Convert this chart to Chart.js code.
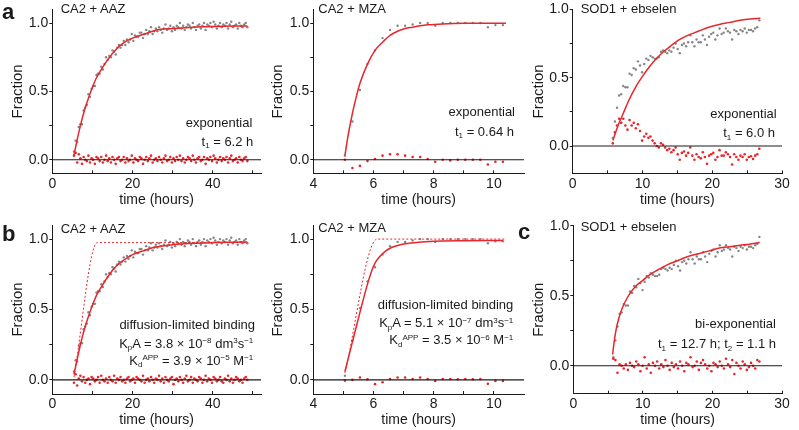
<!DOCTYPE html>
<html><head><meta charset="utf-8">
<script src="https://cdn.jsdelivr.net/npm/chart.js@4"></script>
<style>
html,body{margin:0;padding:0;background:#fff;}
#fig{position:relative;width:799px;height:430px;overflow:hidden;font-family:"Liberation Sans",Arial,Helvetica,sans-serif;color:#1a1a1a;}
canvas{position:absolute;}
.t{position:absolute;font-size:13px;line-height:15px;white-space:nowrap;}
.L{position:absolute;font-size:22px;line-height:22px;font-weight:bold;}
sub,sup{font-size:8px;line-height:0;position:relative;vertical-align:baseline;}
sup{top:-0.6em;} sub{top:0.3em;}
</style></head><body>
<div id="fig">
<canvas id="pa1" width="270" height="210" style="left:0;top:0"></canvas>
<canvas id="pa2" width="265" height="210" style="left:265px;top:0"></canvas>
<canvas id="pa3" width="269" height="210" style="left:530px;top:0"></canvas>
<canvas id="pb1" width="270" height="215" style="left:0;top:215px"></canvas>
<canvas id="pb2" width="265" height="215" style="left:265px;top:215px"></canvas>
<canvas id="pc" width="269" height="215" style="left:530px;top:215px"></canvas>

<div class="L" style="left:2px;top:1px">a</div>
<div class="L" style="left:2px;top:223px">b</div>
<div class="L" style="left:518px;top:221px">c</div>

<div class="t" style="left:60.7px;top:0.7px">CA2 + AAZ</div>
<div class="t" style="right:546.7px;top:115.3px">exponential</div>
<div class="t" style="right:545.7px;top:134px">t<sub>1</sub> = 6.2 h</div>

<div class="t" style="left:318.3px;top:1.3px">CA2 + MZA</div>
<div class="t" style="right:284px;top:103.7px">exponential</div>
<div class="t" style="right:285px;top:123.7px">t<sub>1</sub> = 0.64 h</div>

<div class="t" style="left:580.7px;top:0.7px">SOD1 + ebselen</div>
<div class="t" style="right:22.3px;top:106px">exponential</div>
<div class="t" style="right:24px;top:125.3px">t<sub>1</sub> = 6.0 h</div>

<div class="t" style="left:60.7px;top:220.7px">CA2 + AAZ</div>
<div class="t" style="right:544px;top:317px">diffusion-limited binding</div>
<div class="t" style="right:545.7px;top:335.7px">K<sub>p</sub>A = 3.8 × 10<sup>−8</sup> dm<sup>3</sup>s<sup>−1</sup></div>
<div class="t" style="right:545.7px;top:353px">K<sub>d</sub><sup>APP</sup> = 3.9 × 10<sup>−5</sup> M<sup>−1</sup></div>

<div class="t" style="left:318.3px;top:219.7px">CA2 + MZA</div>
<div class="t" style="right:285.7px;top:297px">diffusion-limited binding</div>
<div class="t" style="right:285.7px;top:315.3px">K<sub>p</sub>A = 5.1 × 10<sup>−7</sup> dm<sup>3</sup>s<sup>−1</sup></div>
<div class="t" style="right:285.7px;top:332.3px">K<sub>d</sub><sup>APP</sup> = 3.5 × 10<sup>−6</sup> M<sup>−1</sup></div>

<div class="t" style="left:580.7px;top:219px">SOD1 + ebselen</div>
<div class="t" style="right:23px;top:316.3px">bi-exponential</div>
<div class="t" style="right:23px;top:336.3px">t<sub>1</sub> = 12.7 h; t<sub>2</sub> = 1.1 h</div>
</div>

<script>
// ---------- CA2 + AAZ ----------
const timesAAZ = [5.4,5.8,6.2,6.6,7.0,7.4,7.8,8.2,8.6,9.0,
9.4,9.8,10.2,10.6,11.0,11.4,11.8,12.2,12.6,13.0,
13.4,13.8,14.2,14.6,15.0,15.4,15.8,16.2,16.6,17.0,
17.4,17.8,18.2,18.6,19.0,19.4,19.8,20.2,20.6,21.0,
21.4,21.8,22.2,22.6,23.0,23.4,23.8,24.2,24.6,25.0,
25.4,25.8,26.2,26.6,27.0,27.4,27.8,28.2,28.6,29.0,
29.4,29.8,30.2,30.6,31.0,31.4,31.8,32.2,32.6,33.0,
33.4,33.8,34.2,34.6,35.0,35.4,35.8,36.2,36.6,37.0,
37.4,37.8,38.2,38.6,39.0,39.4,39.8,40.2,40.6,41.0,
41.4,41.8,42.2,42.6,43.0,43.4,43.8,44.2,44.6,45.0,
45.4,45.8,46.2,46.6,47.0,47.4,47.8,48.2,48.6];
const grayAAZ = [0.06,0.14,0.13,0.24,0.26,0.26,0.36,0.38,0.40,0.48,
0.46,0.52,0.54,0.54,0.62,0.63,0.63,0.68,0.66,0.70,
0.75,0.73,0.76,0.75,0.80,0.79,0.77,0.82,0.84,0.82,
0.84,0.87,0.84,0.88,0.86,0.88,0.92,0.87,0.91,0.90,
0.90,0.93,0.93,0.89,0.92,0.95,0.92,0.94,0.97,0.92,
0.94,0.96,0.94,0.97,0.95,0.93,0.96,0.99,0.95,0.96,
0.98,0.94,0.97,0.95,0.98,0.97,1.00,0.96,0.98,0.95,
0.97,0.99,0.98,0.96,1.00,0.97,0.95,0.98,0.99,0.96,
0.98,1.00,0.95,0.99,0.98,1.00,0.97,1.01,0.99,0.96,
0.98,1.00,0.97,0.99,0.98,1.00,0.96,0.99,1.01,0.97,
0.98,0.99,0.96,1.00,0.98,0.97,0.99,1.00,0.97];
const residAAZexp = [0.03,0.05,-0.02,0.04,0.01,-0.03,0.02,0.00,-0.01,0.03,
-0.02,0.01,0.00,-0.03,0.02,0.01,-0.01,0.02,-0.02,0.00,
0.03,-0.01,0.01,-0.02,0.02,0.00,-0.03,0.01,0.02,-0.01,
0.00,0.02,-0.02,0.01,-0.01,0.00,0.03,-0.02,0.01,0.00,
-0.01,0.02,0.01,-0.03,0.00,0.02,-0.01,0.01,0.03,-0.02,
0.00,0.01,-0.01,0.02,0.00,-0.02,0.01,0.03,-0.01,0.00,
0.02,-0.02,0.01,-0.01,0.02,0.00,0.03,-0.01,0.01,-0.02,
0.00,0.02,0.01,-0.01,0.03,0.00,-0.02,0.01,0.02,-0.01,
0.00,0.02,-0.03,0.01,0.00,0.02,-0.01,0.03,0.01,-0.02,
0.00,0.02,-0.01,0.01,0.00,0.02,-0.02,0.01,0.03,-0.01,
0.00,0.01,-0.02,0.02,0.00,-0.01,0.01,0.02,-0.01];
const residAAZdiff = [-0.02,0.04,-0.04,0.01,0.03,-0.01,0.02,-0.02,0.00,0.01,
-0.03,0.02,0.01,-0.01,0.00,0.02,-0.02,0.03,0.00,-0.01,
0.01,-0.02,0.02,0.00,-0.01,0.03,-0.02,0.01,0.00,0.02,
-0.01,0.00,-0.02,0.01,0.02,-0.01,0.00,0.01,-0.02,0.02,
0.01,0.00,-0.01,0.03,-0.02,0.00,0.01,-0.01,0.02,0.00,
-0.02,0.01,0.00,0.03,-0.01,0.01,-0.02,0.02,0.00,-0.01,
0.01,0.02,-0.03,0.00,0.01,-0.01,0.02,0.00,-0.02,0.01,
0.03,-0.01,0.00,0.02,-0.02,0.01,0.00,-0.01,0.02,0.01,
-0.02,0.00,0.03,-0.01,0.01,0.00,-0.02,0.02,0.01,-0.01,
0.00,0.02,-0.01,-0.02,0.01,0.00,0.03,-0.01,0.01,-0.02,
0.00,0.02,0.01,-0.01,0.00,-0.02,0.01,0.02,0.00];
const fitAAZexpT = [5.4,6,7,8,9,10,11,12,14,16,18,20,23,26,30,35,40,45,48.6];
const fitAAZexpY = [0.03,0.12,0.25,0.36,0.45,0.53,0.60,0.65,0.74,0.81,0.86,0.89,0.92,0.95,0.96,0.97,0.975,0.978,0.979];
const fitAAZdiffT = [5.4,6,7,8,9,10,11,12,14,16,18,20,23,26,30,35,40,45,48.6];
const fitAAZdiffY = [0.04,0.12,0.25,0.36,0.45,0.53,0.60,0.65,0.74,0.81,0.855,0.89,0.92,0.945,0.96,0.97,0.975,0.978,0.98];
const limAAZT = [5.4,11.2,48.6];
const limAAZY = [0.02,0.975,0.975];

// ---------- CA2 + MZA ----------
const timesMZA = [5.05,5.30,5.55,5.80,6.05,6.30,6.55,6.80,7.05,7.30,7.55,7.80,8.05,8.30,8.55,8.80,9.05,9.30,9.55,9.80,10.05,10.30];
const grayMZA = [0.03,0.28,0.51,0.70,0.80,0.89,0.95,0.98,0.98,0.99,1.00,1.00,0.98,1.00,1.00,1.00,1.00,1.00,1.00,0.97,0.985,0.985];
const residMZAexp = [0.00,-0.06,-0.045,-0.01,0.005,0.03,0.04,0.04,0.03,0.02,0.02,0.005,-0.015,0.00,-0.005,0.00,0.00,0.00,0.00,-0.035,-0.015,-0.015];
const residMZAdiff = [-0.005,0.00,0.017,0.005,-0.03,-0.017,0.007,0.017,0.017,0.007,0.017,0.007,-0.007,0.007,0.007,0.005,0.007,0.005,0.007,-0.028,-0.007,-0.007];
const fitMZAexpT = [5.05,5.15,5.3,5.45,5.55,5.8,6.05,6.3,6.55,6.8,7.05,7.3,7.55,7.8,8.3,9,10.4];
const fitMZAexpY = [0.03,0.17,0.34,0.48,0.56,0.70,0.80,0.86,0.91,0.94,0.96,0.97,0.98,0.987,0.994,0.998,0.999];
const fitMZAdiffT = [5.05,5.3,5.55,5.8,5.95,6.05,6.2,6.4,6.6,6.8,7.05,7.5,8,9,10.3];
const fitMZAdiffY = [0.06,0.27,0.48,0.68,0.78,0.83,0.875,0.915,0.94,0.955,0.967,0.978,0.984,0.988,0.99];
const limMZAT = [5.05,6.12,10.4];
const limMZAY = [0.05,1.0,1.0];

// ---------- SOD1 + ebselen ----------
const timesSOD = [5.75,6.05,6.35,6.65,6.95,7.25,7.55,7.85,8.15,8.45,
8.75,9.05,9.35,9.65,9.95,10.25,10.55,10.85,11.15,11.45,
11.75,12.05,12.35,12.65,12.95,13.25,13.55,13.85,14.15,14.45,
14.75,15.05,15.35,15.65,15.95,16.25,16.55,16.85,17.15,17.45,
17.75,18.05,18.35,18.65,18.95,19.25,19.55,19.85,20.15,20.45,
20.75,21.05,21.35,21.65,21.95,22.25,22.55,22.85,23.15,23.45,
23.75,24.05,24.35,24.65,24.95,25.25,25.55,25.85,26.15,26.45,
26.75];
const graySOD = [0.06,0.18,0.28,0.37,0.38,0.44,0.43,0.43,0.53,0.52,
0.57,0.56,0.62,0.59,0.54,0.60,0.64,0.63,0.66,0.65,
0.64,0.64,0.65,0.69,0.70,0.69,0.68,0.70,0.69,0.72,
0.75,0.71,0.68,0.74,0.75,0.73,0.76,0.81,0.76,0.73,
0.78,0.76,0.76,0.81,0.78,0.74,0.80,0.82,0.83,0.78,
0.81,0.86,0.82,0.83,0.86,0.84,0.83,0.78,0.85,0.84,
0.82,0.85,0.84,0.86,0.83,0.85,0.85,0.84,0.86,0.87,
0.92];
const residSODexp = [0.02,0.10,0.15,0.20,0.17,0.20,0.15,0.12,0.19,0.15,
0.17,0.13,0.16,0.11,0.04,0.07,0.09,0.06,0.07,0.04,
0.02,0.00,-0.01,0.02,0.01,-0.01,-0.03,-0.02,-0.045,-0.03,
-0.01,-0.06,-0.10,-0.05,-0.04,-0.07,-0.05,-0.01,-0.07,-0.10,
-0.06,-0.08,-0.09,-0.045,-0.08,-0.13,-0.07,-0.06,-0.05,-0.10,
-0.08,-0.03,-0.07,-0.07,-0.045,-0.06,-0.08,-0.135,-0.06,-0.08,
-0.10,-0.07,-0.08,-0.06,-0.10,-0.08,-0.075,-0.095,-0.07,-0.06,
-0.02];
const residSODbi = [0.05,0.04,-0.05,0.01,0.00,-0.02,0.01,-0.03,0.02,0.00,
-0.01,0.03,0.01,-0.04,0.00,0.06,-0.02,0.01,-0.05,0.02,
0.00,0.03,-0.02,0.01,-0.01,0.04,0.00,-0.03,0.02,-0.01,
0.01,-0.02,0.03,0.00,-0.04,0.02,0.01,0.06,-0.01,0.00,
0.03,-0.03,0.02,0.04,0.01,-0.02,0.00,-0.04,0.02,0.01,
-0.01,0.03,0.00,-0.02,0.05,0.01,-0.01,0.04,-0.06,0.02,
0.00,-0.02,0.03,0.01,-0.03,-0.01,0.02,0.00,-0.02,0.04,
0.03];
const fitSODexpT = [5.75,6.5,7.25,8,9,10,11,12,13,14,15,16.5,18,19.5,21,22.5,24,25.5,26.9];
const fitSODexpY = [0.04,0.15,0.24,0.33,0.43,0.51,0.58,0.64,0.69,0.73,0.77,0.81,0.84,0.87,0.89,0.905,0.92,0.93,0.935];
const fitSODbiT = [5.65,5.9,6.2,6.5,6.8,7.2,7.7,8.2,9,10,11,12,13.5,15,16.5,18,19.5,21,22.5,24,25.5,26.8];
const fitSODbiY = [0.08,0.18,0.27,0.33,0.38,0.43,0.48,0.52,0.57,0.61,0.65,0.68,0.72,0.75,0.78,0.80,0.82,0.84,0.85,0.86,0.87,0.88];

// ---------- ticks ----------
const xTicksAAZ = [0,10,20,30,40,50];
const xLabelsAAZ = [0,20,40];
const xTicksMZA = [4,5,6,7,8,9,10];
const xLabelsMZA = [4,6,8,10];
const xTicksSOD = [0,5,10,15,20,25,30];
const xLabelsSOD = [0,10,20,30];
const yTicks = [0,0.25,0.5,0.75,1];
const yLabels = [0,0.5,1];

const FF = '"Liberation Sans", Arial, Helvetica, sans-serif';
const INK = '#1a1a1a', GRAY = '#858585', RED = '#e8262b';
const zip = (xs, ys) => xs.map((x, i) => ({x: x, y: ys[i]}));

function pts(xs, ys, color, order, r) {
  return {data: zip(xs, ys), showLine: false, pointRadius: r, pointBorderWidth: 0,
          pointBackgroundColor: color, pointHoverRadius: 0, order: order};
}
function line(xs, ys, color, width, order, dash) {
  return {data: zip(xs, ys), showLine: true, pointRadius: 0, borderColor: color,
          borderWidth: width, cubicInterpolationMode: 'monotone', borderDash: dash || [],
          fill: false, order: order};
}
function panel(id, c) {
  return new Chart(document.getElementById(id), {
    type: 'scatter',
    data: {datasets: c.datasets},
    options: {
      responsive: false, animation: false, events: [],
      layout: {padding: {top: c.padTop, right: c.padRight, left: 0, bottom: 0}},
      plugins: {legend: {display: false}, tooltip: {enabled: false}},
      scales: {
        x: {
          type: 'linear', position: 'bottom', min: c.xMin, max: c.xMax,
          afterBuildTicks: s => { s.ticks = c.xTicks.map(v => ({value: v})); },
          afterFit: s => { s.height = c.xH; },
          ticks: {autoSkip: false, maxRotation: 0, padding: 5, color: INK,
                  font: {family: FF, size: 14, weight: 'normal'},
                  callback: v => c.xLabels.includes(v) ? String(v) : ''},
          grid: {drawOnChartArea: false, drawTicks: true, tickLength: -3, color: INK, lineWidth: 1},
          border: {display: true, color: INK, width: 1},
          title: {display: true, text: 'time (hours)', color: INK,
                  font: {family: FF, size: 14, weight: 'normal'}, padding: {top: 0, bottom: 1}}
        },
        y: {
          type: 'linear', position: 'left', min: c.yMin, max: c.yMax,
          afterBuildTicks: s => { s.ticks = yTicks.map(v => ({value: v})); },
          afterFit: s => { s.width = c.yW; },
          ticks: {autoSkip: false, padding: 1, color: INK, font: {family: FF, size: 14, weight: 'normal'},
                  callback: v => yLabels.includes(v) ? v.toFixed(1) : ''},
          grid: {drawOnChartArea: false, drawTicks: true, tickLength: 3, color: INK, lineWidth: 1},
          border: {display: true, color: INK, width: 1},
          title: {display: true, text: 'Fraction', color: INK,
                  font: {family: FF, size: 15, weight: 'normal'}, padding: {top: c.yTitlePad, bottom: 0}}
        }
      }
    }
  });
}
function zero(x0, x1) { return line([x0, x1], [0, 0], INK, 1.1, 2); }

panel('pa1', {xMin: 0, xMax: 52, yMin: -0.1, yMax: 1.1, xTicks: xTicksAAZ, xLabels: xLabelsAAZ,
  padTop: 4.2, padRight: 9, xH: 36.6, yW: 52.3, yTitlePad: 9,
  datasets: [pts(timesAAZ, grayAAZ, GRAY, 4, 1.2), pts(timesAAZ, residAAZexp, RED, 3, 1.3), zero(0, 52),
             line(fitAAZexpT, fitAAZexpY, RED, 1.5, 1)]});
panel('pa2', {xMin: 4, xMax: 11, yMin: -0.1, yMax: 1.1, xTicks: xTicksMZA, xLabels: xLabelsMZA,
  padTop: 4.2, padRight: 6, xH: 36.6, yW: 48.3, yTitlePad: 4,
  datasets: [pts(timesMZA, grayMZA, GRAY, 4, 1.2), pts(timesMZA, residMZAexp, RED, 3, 1.3), zero(4, 11),
             line(fitMZAexpT, fitMZAexpY, RED, 1.5, 1)]});
panel('pa3', {xMin: 0, xMax: 30, yMin: -0.2, yMax: 1.0, xTicks: xTicksSOD, xLabels: xLabelsSOD,
  padTop: 5, padRight: 17, xH: 36.6, yW: 42.7, yTitlePad: 0,
  datasets: [pts(timesSOD, graySOD, GRAY, 4, 1.2), pts(timesSOD, residSODexp, RED, 3, 1.3), zero(0, 30),
             line(fitSODexpT, fitSODexpY, RED, 1.5, 1)]});
panel('pb1', {xMin: 0, xMax: 52, yMin: -0.1, yMax: 1.1, xTicks: xTicksAAZ, xLabels: xLabelsAAZ,
  padTop: 10, padRight: 9, xH: 36, yW: 52.3, yTitlePad: 9,
  datasets: [pts(timesAAZ, grayAAZ, GRAY, 4, 1.2), pts(timesAAZ, residAAZdiff, RED, 3, 1.3), zero(0, 52),
             line(fitAAZdiffT, fitAAZdiffY, RED, 1.5, 1),
             line(limAAZT, limAAZY, RED, 1, 0, [2, 2])]});
panel('pb2', {xMin: 4, xMax: 11, yMin: -0.1, yMax: 1.1, xTicks: xTicksMZA, xLabels: xLabelsMZA,
  padTop: 10, padRight: 6, xH: 36, yW: 48.3, yTitlePad: 4,
  datasets: [pts(timesMZA, grayMZA, GRAY, 4, 1.2), pts(timesMZA, residMZAdiff, RED, 3, 1.3), zero(4, 11),
             line(fitMZAdiffT, fitMZAdiffY, RED, 1.5, 1),
             line(limMZAT, limMZAY, RED, 1, 0, [2, 2])]});
panel('pc', {xMin: 0, xMax: 30, yMin: -0.2, yMax: 1.0, xTicks: xTicksSOD, xLabels: xLabelsSOD,
  padTop: 10.7, padRight: 17, xH: 36.3, yW: 43.3, yTitlePad: 0,
  datasets: [pts(timesSOD, graySOD, GRAY, 4, 1.2), pts(timesSOD, residSODbi, RED, 3, 1.3), zero(0, 30),
             line(fitSODbiT, fitSODbiY, RED, 1.5, 1)]});
</script>
</body></html>
